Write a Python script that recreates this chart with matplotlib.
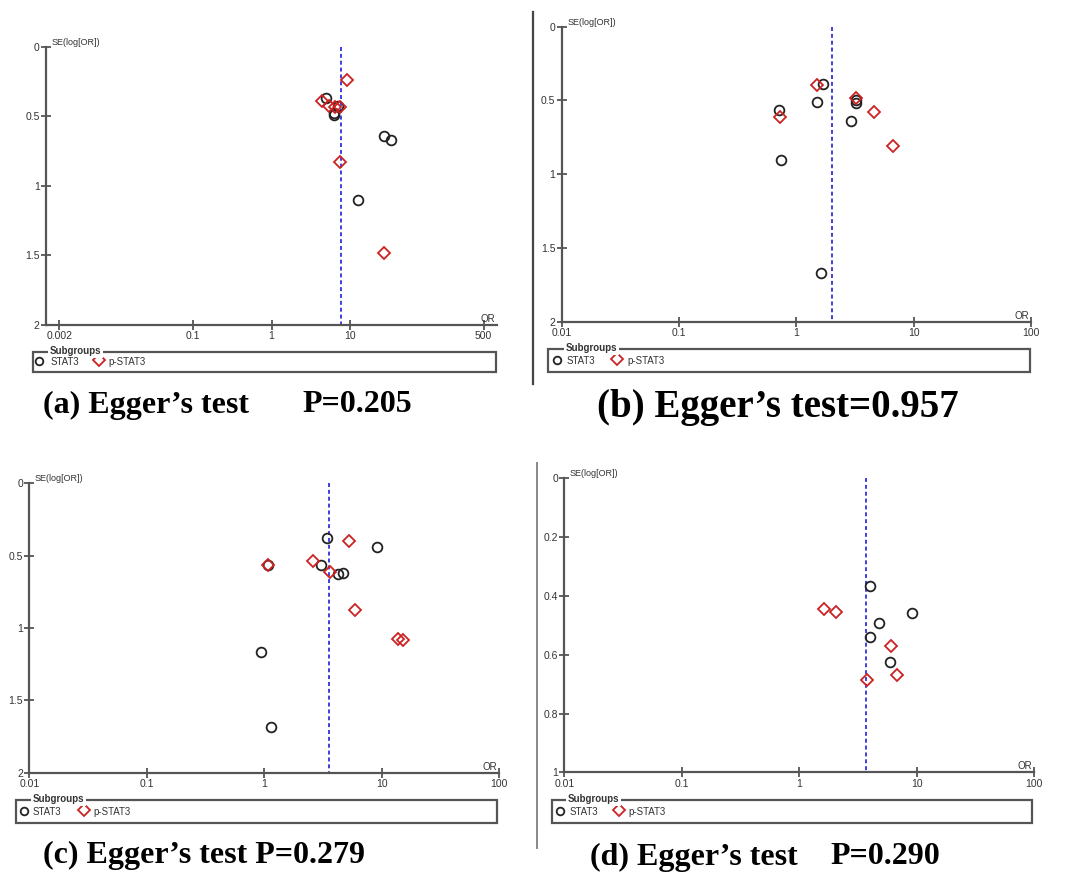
import matplotlib
matplotlib.use("Agg")
import matplotlib.pyplot as plt
from matplotlib.lines import Line2D
from matplotlib.patches import Rectangle
import numpy as np

W, H = 1069, 876

# ---------------- data ----------------
# panel (a)
a_stat3_or = [4.94, 6.97, 6.19, 6.19, 27.4, 33.6, 12.5]
a_stat3_se = [0.366, 0.426, 0.479, 0.491, 0.642, 0.673, 1.102]
a_pstat3_or = [9.1, 4.44, 5.40, 6.50, 7.38, 7.5, 26.8]
a_pstat3_se = [0.242, 0.388, 0.426, 0.431, 0.431, 0.831, 1.485]
a_pooled = 7.6

# panel (b)
b_stat3_or = [1.69, 1.50, 0.71, 0.74, 3.25, 3.25, 2.94, 1.61]
b_stat3_se = [0.391, 0.513, 0.567, 0.906, 0.500, 0.520, 0.637, 1.668]
b_pstat3_or = [1.50, 0.73, 3.25, 4.62, 6.62]
b_pstat3_se = [0.395, 0.615, 0.481, 0.581, 0.807]
b_pooled = 2.0

# panel (c)
c_stat3_or = [3.4, 9.08, 3.05, 1.08, 4.29, 4.67, 0.946, 1.135]
c_stat3_se = [0.376, 0.440, 0.567, 0.567, 0.624, 0.619, 1.168, 1.687]
c_pstat3_or = [5.28, 2.62, 1.08, 3.64, 5.97, 13.8, 15.3]
c_pstat3_se = [0.399, 0.537, 0.567, 0.615, 0.878, 1.076, 1.083]
c_pooled = 3.59

# panel (d)
d_stat3_or = [4.04, 9.08, 4.79, 4.04, 5.97]
d_stat3_se = [0.366, 0.457, 0.492, 0.540, 0.624]
d_pstat3_or = [1.62, 2.06, 6.06, 6.76, 3.81]
d_pstat3_se = [0.446, 0.456, 0.571, 0.670, 0.685]
d_pooled = 3.73

ticks_a = [0.002, 0.1, 1, 10, 500]
ticklabels_a = ["0.002", "0.1", "1", "10", "500"]
ticks_bcd = [0.01, 0.1, 1, 10, 100]
ticklabels_bcd = ["0.01", "0.1", "1", "10", "100"]
yt_2 = [0, 0.5, 1, 1.5, 2]
yl_2 = ["0", "0.5", "1", "1.5", "2"]
yt_1 = [0, 0.2, 0.4, 0.6, 0.8, 1]
yl_1 = ["0", "0.2", "0.4", "0.6", "0.8", "1"]

captions = [
    [("(a) Egger\u2019s test", 43, 405, 23), ("P=0.205", 302, 405, 23)],
    [("(b) Egger\u2019s test=0.957", 597, 408, 28)],
    [("(c) Egger\u2019s test P=0.279", 43, 855, 23)],
    [("(d) Egger\u2019s test", 590, 857, 23), ("P=0.290", 830, 857, 23)],
]

plt.rcParams['font.family'] = ['Liberation Sans', 'DejaVu Sans']

fig = plt.figure(figsize=(W / 100, H / 100), dpi=100)

AX_COL = '#555555'
TXT_COL = '#333333'
RED = '#cc2222'
BLK = '#222222'
BLUE = '#3030dd'


def fig_axes(x0, y0, x1, y1):
    return fig.add_axes([x0 / W, 1 - y1 / H, (x1 - x0) / W, (y1 - y0) / H])


def funnel(box, xlim, ylim, xt, xtl, yt, ytl, s_or, s_se, p_or, p_se, pooled):
    ax = fig_axes(*box)
    ax.set_xscale('log')
    ax.set_xlim(*xlim)
    ax.set_ylim(ylim, 0)
    for s in ['top', 'right']:
        ax.spines[s].set_visible(False)
    for s in ['left', 'bottom']:
        ax.spines[s].set_color(AX_COL)
        ax.spines[s].set_linewidth(1.6)
    ax.set_xticks(xt)
    ax.set_xticklabels(xtl)
    ax.minorticks_off()
    ax.set_yticks(yt)
    ax.set_yticklabels(ytl)
    ax.tick_params(direction='inout', length=7, width=1.3, color=AX_COL,
                   labelsize=7.5, labelcolor=TXT_COL, pad=1)
    ax.patch.set_alpha(0)
    ax.plot([pooled, pooled], [0, ylim], ls=(0, (2.2, 1.6)), color=BLUE, lw=1.3, zorder=1)
    ax.plot(s_or, s_se, 'o', ms=7, mfc='none', mec=BLK, mew=1.3, zorder=3, clip_on=False)
    ax.plot(p_or, p_se, 'D', ms=6.3, mfc='none', mec=RED, mew=1.3, zorder=3, clip_on=False)
    ax.text(0.012, 1.0, 'SE(log[OR])', transform=ax.transAxes, fontsize=6.5,
            color=TXT_COL, ha='left', va='bottom')
    ax.text(0.995, 0.004, 'OR', transform=ax.transAxes, fontsize=7,
            color=TXT_COL, ha='right', va='bottom')
    return ax


def legend_box(x0, y0, x1, y1, cx, sx, dx, px, gx):
    lax = fig_axes(x0, y0, x1, y1)
    lax.set_xlim(x0, x1)
    lax.set_ylim(y1, y0)
    lax.axis('off')
    lax.add_patch(Rectangle((x0 + 0.8, y0), x1 - x0 - 1.6, y1 - y0 - 0.8, fill=False,
                            ec=AX_COL, lw=1.6, clip_on=False))
    lax.text(gx, y0 - 1, 'Subgroups', fontsize=7, fontweight='bold', color=TXT_COL,
             ha='left', va='center', bbox=dict(fc='white', ec='none', pad=1.2))
    ym = y0 + (y1 - y0) * 0.45
    lax.plot([cx], [ym], 'o', ms=5.5, mfc='none', mec=BLK, mew=1.3, clip_on=False)
    lax.text(sx, ym + 1, 'STAT3', fontsize=7, color=TXT_COL, ha='left', va='center')
    lax.plot([dx], [ym - 1], 'D', ms=6, mfc='none', mec=RED, mew=1.3, clip_on=False)
    lax.text(px, ym + 1, 'p-STAT3', fontsize=7, color=TXT_COL, ha='left', va='center')


# panel (a)
funnel((46, 46.7, 497, 325), (10 ** -2.87, 10 ** 2.87), 2, ticks_a, ticklabels_a,
       yt_2, yl_2, a_stat3_or, a_stat3_se, a_pstat3_or, a_pstat3_se, a_pooled)
legend_box(32, 352, 497, 373, 38.5, 51, 99, 108, 50)

# panel (b)
funnel((561.7, 26.7, 1031, 321.7), (0.01, 100), 2, ticks_bcd, ticklabels_bcd,
       yt_2, yl_2, b_stat3_or, b_stat3_se, b_pstat3_or, b_pstat3_se, b_pooled)
legend_box(547, 349, 1031, 373, 557, 567, 617, 627, 566)

# panel (c)
funnel((29.3, 483.3, 499, 772.7), (0.01, 100), 2, ticks_bcd, ticklabels_bcd,
       yt_2, yl_2, c_stat3_or, c_stat3_se, c_pstat3_or, c_pstat3_se, c_pooled)
legend_box(15, 800, 498, 824, 24, 33, 84, 93, 33)

# panel (d)
funnel((564.3, 478.3, 1034, 772.3), (0.01, 100), 1, ticks_bcd, ticklabels_bcd,
       yt_1, yl_1, d_stat3_or, d_stat3_se, d_pstat3_or, d_pstat3_se, d_pooled)
legend_box(551, 800, 1033, 824, 560, 570, 619, 628, 568)

# separator lines
fig.add_artist(Line2D([532.7 / W] * 2, [1 - 12 / H, 1 - 384 / H], color='#444444', lw=1.6))
fig.add_artist(Line2D([536.7 / W] * 2, [1 - 463 / H, 1 - 848 / H], color='#888888', lw=1.4))

for cap in captions:
    for txt, x, y, fs in cap:
        fig.text(x / W, 1 - y / H, txt, fontsize=fs, fontweight='bold',
                 family=['Liberation Serif', 'DejaVu Serif'], ha='left', va='center',
                 color='black')

fig.savefig('out.png', dpi=100, facecolor='white')
